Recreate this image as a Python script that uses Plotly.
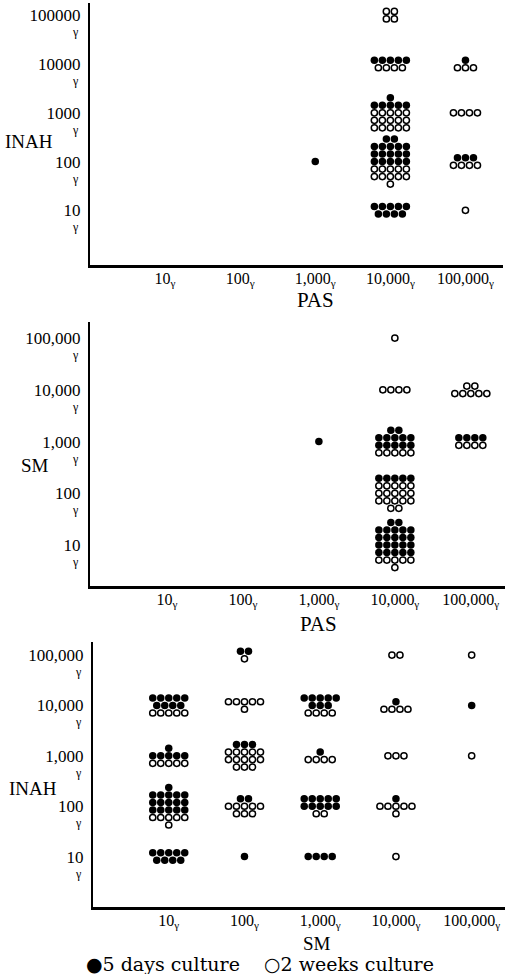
import plotly.graph_objects as go

W, H = 505, 974

# ---------------- data ----------------
LEVELS = [1, 2, 3, 4, 5]
X_TICK_LABELS = ["10", "100", "1,000", "10,000", "100,000"]
Y_TICK_LABELS_1 = ["10", "100", "1000", "10000", "100000"]
Y_TICK_LABELS_2 = ["10", "100", "1,000", "10,000", "100,000"]
Y_TICK_LABELS_3 = ["10", "100", "1,000", "10,000", "100,000"]

# each cluster: x level, y level, rows top->bottom ("F"=5 days culture, "O"=2 weeks culture, count)
P1_X = [3, 4, 4, 4, 4, 4, 5, 5, 5, 5]
P1_Y = [2, 5, 4, 3, 2, 1, 4, 3, 2, 1]
P1_ROWS = ["F1", "O2 O2", "F5 O4", "F1 F5 O5 O5 O5", "F2 F5 F5 F5 O5 O5 O1",
           "F5 F4", "F1 O3", "O4", "F3 O4", "O1"]

P2_X = [3, 4, 4, 4, 4, 4, 5, 5]
P2_Y = [3, 5, 4, 3, 2, 1, 4, 3]
P2_ROWS = ["F1", "O1", "O4", "F2 F5 F5 O5", "F5 O5 O5 O5 O2",
           "F2 F5 F5 F5 F5 O5 O1", "O2 O5", "F4 O4"]

P3_X = [1, 1, 1, 1, 2, 2, 2, 2, 2, 3, 3, 3, 3, 4, 4, 4, 4, 4, 5, 5, 5]
P3_Y = [4, 3, 2, 1, 5, 4, 3, 2, 1, 4, 3, 2, 1, 5, 4, 3, 2, 1, 5, 4, 3]
P3_ROWS = ["F5 F4 O5", "F1 F5 O5", "F1 F5 F5 F5 O5 O1", "F5 F4",
           "F2 O1", "O5 O1", "F3 O5 O5 O3", "F2 O5 O3", "F1",
           "F5 F3 O4", "F1 O4", "F5 F5 O2", "F4",
           "O2", "F1 O4", "O3", "F1 O5 O1", "O1",
           "O1", "F1", "O1"]

SERIES_NAMES = {"F": "5 days culture", "O": "2 weeks culture"}

# ---------------- layout geometry ----------------
COL_PX = 8.0
ROW_PX = 7.5
SERIF = "Liberation Serif, DejaVu Serif, serif"

PANELS = [
    dict(xs=P1_X, ys=P1_Y, rows=P1_ROWS, ylabels=Y_TICK_LABELS_1,
         box=(90, 503, 3, 265), xr=(0, 5.5), yr=(-0.12, 5.25),
         ytitle="INAH", ytpos=(29, 141), xtitle="PAS", xtpos=(315, 300), xtsize=21),
    dict(xs=P2_X, ys=P2_Y, rows=P2_ROWS, ylabels=Y_TICK_LABELS_2,
         box=(90, 505, 322, 586), xr=(-0.013, 5.45), yr=(0.21, 5.31),
         ytitle="SM", ytpos=(35, 465), xtitle="PAS", xtpos=(318, 624), xtsize=21),
    dict(xs=P3_X, ys=P3_Y, rows=P3_ROWS, ylabels=Y_TICK_LABELS_3,
         box=(93, 505, 642, 907), xr=(0, 5.44), yr=(0, 5.26),
         ytitle="INAH", ytpos=(33, 788), xtitle="SM", xtpos=(317, 943), xtsize=19),
]


def expand(xs, ys, rows, ux, uy):
    out = {"F": ([], []), "O": ([], [])}
    for cx, cy, spec in zip(xs, ys, rows):
        parts = spec.split()
        n = len(parts)
        for i, p in enumerate(parts):
            kind, cnt = p[0], int(p[1:])
            dy = ((n - 1) / 2 - i) * ROW_PX / uy
            for j in range(cnt):
                dx = (j - (cnt - 1) / 2) * COL_PX / ux
                out[kind][0].append(cx + dx)
                out[kind][1].append(cy + dy)
    return out


fig = go.Figure()
annotations = []
layout_axes = {}

for k, p in enumerate(PANELS, start=1):
    l, r, t, b = p["box"]
    ux = (r - l) / (p["xr"][1] - p["xr"][0])
    uy = (b - t) / (p["yr"][1] - p["yr"][0])
    pts = expand(p["xs"], p["ys"], p["rows"], ux, uy)
    xa = "x" if k == 1 else f"x{k}"
    ya = "y" if k == 1 else f"y{k}"

    fig.add_trace(go.Scatter(
        x=pts["F"][0], y=pts["F"][1], mode="markers", xaxis=xa, yaxis=ya,
        name=SERIES_NAMES["F"], legendgroup="F", showlegend=False,
        marker=dict(symbol="circle", size=7.5, color="black", line=dict(width=0)),
        hoverinfo="skip"))
    fig.add_trace(go.Scatter(
        x=pts["O"][0], y=pts["O"][1], mode="markers", xaxis=xa, yaxis=ya,
        name=SERIES_NAMES["O"], legendgroup="O", showlegend=False,
        marker=dict(symbol="circle-open", size=6.2, color="black",
                    line=dict(width=1.5, color="black")),
        hoverinfo="skip"))

    layout_axes["xaxis" if k == 1 else f"xaxis{k}"] = dict(
        domain=[l / W, r / W], range=list(p["xr"]), anchor=ya,
        showline=True, linewidth=2.5, linecolor="black", mirror=False,
        showgrid=False, zeroline=False, ticks="",
        tickvals=LEVELS, ticktext=[f"{s}<sub>γ</sub>" for s in X_TICK_LABELS],
        ticklabeloverflow="allow", ticklabelstandoff=-3,
        tickfont=dict(family=SERIF, size=16, color="black"), fixedrange=True)
    layout_axes["yaxis" if k == 1 else f"yaxis{k}"] = dict(
        domain=[1 - b / H, 1 - t / H], range=list(p["yr"]), anchor=xa,
        showline=True, linewidth=2, linecolor="black", mirror=False,
        showgrid=False, zeroline=False, ticks="",
        tickvals=LEVELS, ticktext=p["ylabels"], ticklabelstandoff=4,
        tickfont=dict(family=SERIF, size=17, color="black"), fixedrange=True)

    for lv in LEVELS:
        annotations.append(dict(
            xref="paper", yref=ya, x=(l - 9) / W, y=lv, yshift=-17,
            xanchor="right", yanchor="middle", showarrow=False, text="γ",
            font=dict(family=SERIF, size=12, color="black")))

    annotations.append(dict(
        xref="paper", yref="paper", x=p["ytpos"][0] / W, y=1 - p["ytpos"][1] / H,
        xanchor="center", yanchor="middle", showarrow=False, text=p["ytitle"],
        font=dict(family=SERIF, size=19, color="black")))
    annotations.append(dict(
        xref="paper", yref="paper", x=p["xtpos"][0] / W, y=1 - p["xtpos"][1] / H,
        xanchor="center", yanchor="middle", showarrow=False, text=p["xtitle"],
        font=dict(family=SERIF, size=p["xtsize"], color="black")))

annotations.append(dict(
    xref="paper", yref="paper", x=260 / W, y=1 - 964 / H,
    xanchor="center", yanchor="middle", showarrow=False,
    text="●5 days culture\u00a0\u00a0\u00a0\u00a0○2 weeks culture",
    font=dict(family="DejaVu Serif, serif", size=19, color="black")))

fig.update_layout(
    width=W, height=H, margin=dict(l=0, r=0, t=0, b=0),
    paper_bgcolor="white", plot_bgcolor="white", showlegend=False,
    annotations=annotations, **layout_axes)

fig.write_html("out.html", config={"displayModeBar": False},
               post_script="document.body.style.margin='0';document.body.style.overflow='hidden';")
